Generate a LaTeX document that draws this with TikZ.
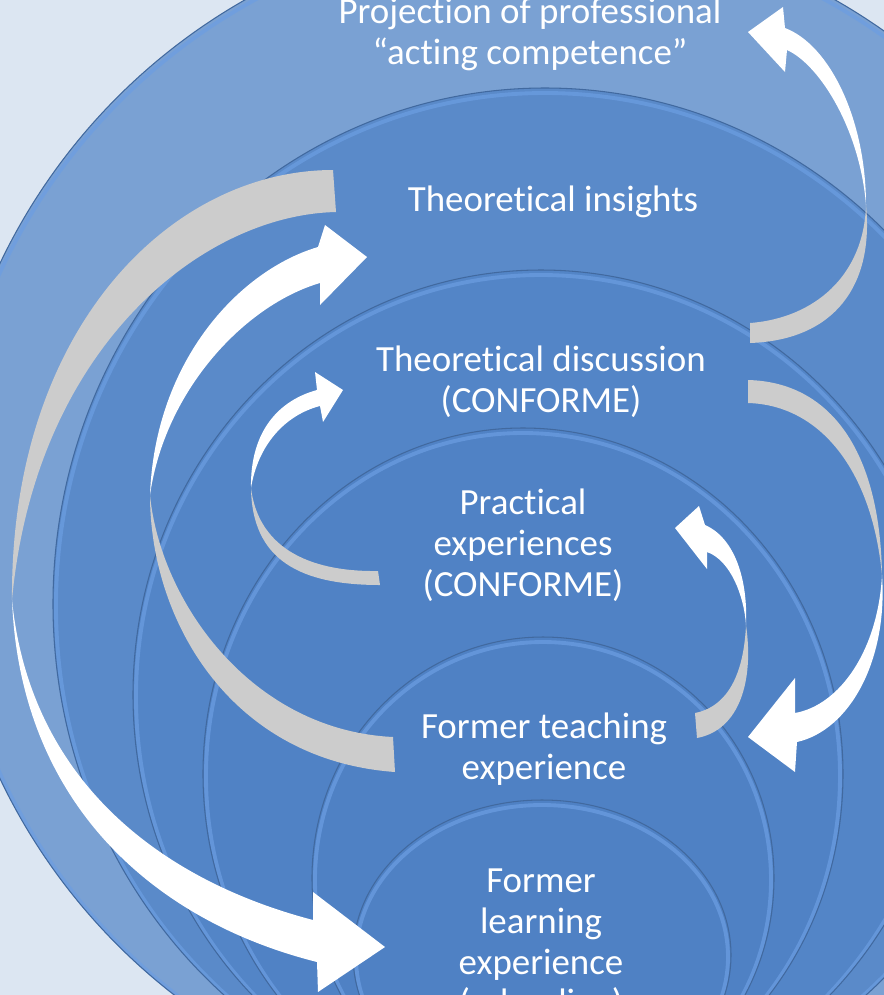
\documentclass[tikz,border=0pt]{standalone}
\usepackage{fontspec}
\setmainfont{Carlito}[Ligatures={TeX,NoCommon}]
\definecolor{backdrop}{HTML}{DCE6F2}
\definecolor{layerA}{HTML}{7AA1D3}
\definecolor{layerB}{HTML}{5A8AC9}
\definecolor{layerC}{HTML}{5385C7}
\definecolor{layerD}{HTML}{5082C5}
\definecolor{layerE}{HTML}{4F81C4}
\definecolor{layerF}{HTML}{4F81C4}
\definecolor{rimline}{HTML}{41699F}
\definecolor{glow}{HTML}{6C9EE2}
\definecolor{backside}{HTML}{CCCCCC}

\begin{document}
\begin{tikzpicture}[x=0.02cm, y=-0.02cm,
  rim/.style={draw=rimline, line width=0.6pt},
  shine/.style={draw=glow, line width=2.2pt, opacity=0.7},
  stage/.style={text=white, align=center, inner sep=0pt, font=\fontsize{21}{23.2}\selectfont},
  backface/.style={fill=backside},
  frontface/.style={fill=white}]
\useasboundingbox (0,0) rectangle (884,995);
\clip (0,0) rectangle (884,995);
\fill[backdrop] (0,0) rectangle (884,995);

\foreach \cx/\cy/\rx/\ry/\col in {540/521/598/599/layerA, 545/604/492/516/layerB,
    541/695/408/425/layerC, 523/774/320/346/layerD, 543/878/231/241/layerE, 542/955/189/155/layerF}{
  \fill[\col] (\cx,\cy) ellipse [x radius=\rx, y radius=\ry];
  \draw[shine] (\cx,\cy+2) ellipse [x radius=\rx-3, y radius=\ry-3];
  \draw[rim] (\cx,\cy) ellipse [x radius=\rx, y radius=\ry];
}

\coordinate (tw1) at (866,205);
\coordinate (tw2) at (12,600);
\coordinate (tw3) at (150,495);
\coordinate (tw4) at (251,488);
\coordinate (tw5) at (882,575);
\coordinate (tw6) at (746,625);

\fill[backface] (750,323) .. controls (815,318) and (864,275) .. (tw1)
  .. controls (874,285) and (835,340) .. (750,343) -- cycle;
\fill[frontface] (tw1) .. controls (866,120) and (830,45) .. (785,28) -- (783,7) -- (748,32)
  -- (785,72) -- (787,50) .. controls (820,65) and (860,130) .. (tw1) -- cycle;

\fill[backface] (333,170) .. controls (170,170) and (10,330) .. (tw2)
  .. controls (35,350) and (200,215) .. (336,212) -- cycle;
\fill[frontface] (tw2) .. controls (20,800) and (150,920) .. (317,962) -- (318,992) -- (385,947)
  -- (313,892) -- (313,920) .. controls (160,880) and (30,780) .. (tw2) -- cycle;

\fill[backface] (tw3) .. controls (150,620) and (230,760) .. (395,772) -- (393,737)
  .. controls (250,730) and (160,600) .. (tw3) -- cycle;
\fill[frontface] (tw3) .. controls (155,360) and (240,270) .. (318,247) -- (325,225) -- (367,257)
  -- (320,305) -- (320,283) .. controls (245,305) and (165,390) .. (tw3) -- cycle;

\fill[backface] (tw4) .. controls (252,560) and (300,585) .. (380,585) -- (378,571)
  .. controls (305,572) and (258,545) .. (tw4) -- cycle;
\fill[frontface] (tw4) .. controls (250,430) and (280,400) .. (317,390) -- (315,372) -- (343,390)
  -- (323,422) -- (320,406) .. controls (285,415) and (258,445) .. (tw4) -- cycle;

\fill[backface] (748,380) .. controls (830,382) and (880,450) .. (tw5)
  .. controls (872,470) and (820,405) .. (748,403) -- cycle;
\fill[frontface] (tw5) .. controls (888,660) and (850,730) .. (797,742) -- (795,772) -- (748,737)
  -- (795,678) -- (795,713) .. controls (840,705) and (878,650) .. (tw5) -- cycle;

\fill[backface] (tw6) .. controls (754,680) and (740,730) .. (697,738) -- (695,713)
  .. controls (730,706) and (744,670) .. (tw6) -- cycle;
\fill[frontface] (tw6) .. controls (748,580) and (735,538) .. (705,525) -- (699,506) -- (675,528)
  -- (707,569) -- (707,552) .. controls (730,560) and (744,595) .. (tw6) -- cycle;

\node[stage] (proj) at (530,34) {Projection of professional\\“acting competence”};
\node[stage] (insight) at (553,202) {Theoretical insights};
\node[stage] (discuss) at (541,382) {Theoretical discussion\\(CONFORME)};
\node[stage] (practice) at (523,545) {Practical\\experiences\\(CONFORME)};
\node[stage] (teach) at (544,749) {Former teaching\\experience};
\node[stage] (learn) at (541,945) {Former\\learning\\experience\\(schooling)};
\end{tikzpicture}
\end{document}
